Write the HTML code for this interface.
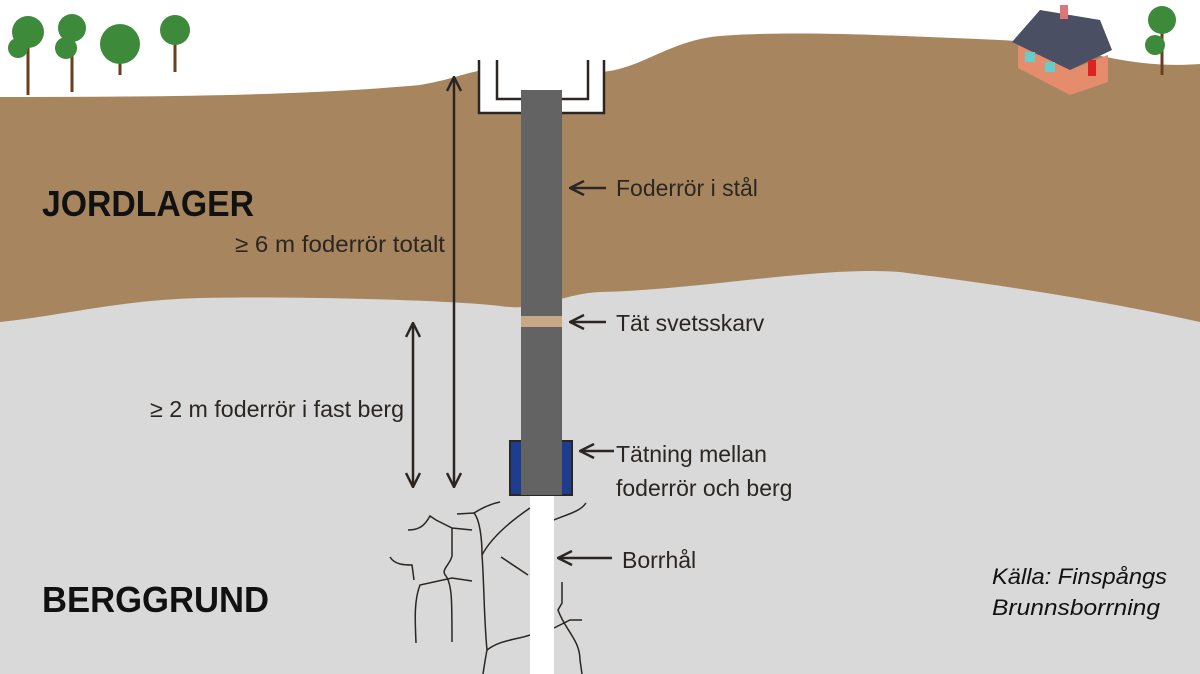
<!DOCTYPE html>
<html><head><meta charset="utf-8"><style>
html,body{margin:0;padding:0;background:#fff}
svg{display:block}
text{font-family:"Liberation Sans",sans-serif}
</style></head><body>
<svg width="1200" height="674" viewBox="0 0 1200 674" xmlns="http://www.w3.org/2000/svg">
<defs>
<marker id="ah" viewBox="0 0 16 16" refX="15" refY="8" markerWidth="16" markerHeight="16" markerUnits="userSpaceOnUse" orient="auto-start-reverse">
<path d="M1,1 L15,8 L1,15" fill="none" stroke="#2b2622" stroke-width="2.5"/>
</marker>
</defs>
<rect width="1200" height="674" fill="#fff"/>
<rect x="0" y="250" width="1200" height="424" fill="#d9d9d9"/>
<path d="M0,97 C150,97 300,96 420,85 C460,78 470,70 490,70 L600,72 C640,70 670,40 720,36 C800,30 900,36 1000,40 C1080,44 1120,70 1200,64 L1200,322 C1100,300 1000,285 900,272 C820,266 700,290 600,292 C560,294 540,312 500,306 C450,300 300,296 200,298 C120,300 60,316 0,322 Z" fill="#a7865f"/>
<g fill="#3d8a3a" stroke="#6b3e1e" stroke-width="3">
<line x1="28" y1="95" x2="28" y2="40"/><circle cx="28" cy="32" r="16" stroke="none"/><circle cx="18" cy="48" r="10" stroke="none"/>
<line x1="72" y1="92" x2="72" y2="30"/><circle cx="72" cy="28" r="14" stroke="none"/><circle cx="66" cy="48" r="11" stroke="none"/>
<line x1="120" y1="75" x2="120" y2="45"/><circle cx="120" cy="44" r="20" stroke="none"/>
<line x1="175" y1="72" x2="175" y2="30"/><circle cx="175" cy="30" r="15" stroke="none"/>
<line x1="1162" y1="75" x2="1162" y2="20"/><circle cx="1162" cy="20" r="14" stroke="none"/><circle cx="1155" cy="45" r="10" stroke="none"/>
</g>
<polygon points="1018,45 1070,70 1108,55 1108,82 1070,95 1018,68" fill="#e58c6c"/>
<polygon points="1012,42 1040,10 1100,20 1112,50 1070,70" fill="#4a4f63"/>
<rect x="1060" y="5" width="8" height="14" fill="#d77"/>
<rect x="1088" y="60" width="8" height="16" fill="#d22"/>
<rect x="1025" y="52" width="10" height="10" fill="#6cc"/><rect x="1045" y="62" width="10" height="10" fill="#6cc"/>
<g fill="none" stroke="#2b2622" stroke-width="1.5">
<path d="M408,530 C420,530 425,525 430,516 L436,520 L452,528 L472,530"/>
<path d="M452,528 L452,556 C450,565 440,570 446,576 C452,585 452,600 452,642"/>
<path d="M390,557 C395,565 405,565 412,565 L414,580"/>
<path d="M416,643 C415,620 414,600 420,585 L452,578 L472,581"/>
<path d="M457,514 L474,513 C480,520 482,540 482,555 C484,580 484,620 487,650 C485,660 484,668 483,674"/>
<path d="M474,513 C482,508 490,504 500,502"/>
<path d="M482,555 C490,540 505,525 530,508"/>
<path d="M501,557 L528,575"/>
<path d="M487,650 C500,640 515,640 530,635"/>
<path d="M554,520 C565,515 580,512 586,503"/>
<path d="M562,582 L562,603 L558,610 C565,630 580,640 580,660 L582,674"/>
<path d="M554,628 L570,620 L582,620"/>
</g>
<rect x="530" y="495" width="24" height="179" fill="#fff"/>
<path d="M479,60 L479,113 L604,113 L604,60" fill="#fff" stroke="#2b2622" stroke-width="2.5"/>
<path d="M497,60 L497,99 L588,99 L588,60" fill="none" stroke="#2b2622" stroke-width="2.5"/>
<rect x="510" y="441" width="62" height="54" fill="#1f3d8f" stroke="#2b2622" stroke-width="2"/>
<rect x="521" y="90" width="41" height="405" fill="#636363"/>
<rect x="521" y="316" width="41" height="11" fill="#c8a987"/>
<line x1="454" y1="77" x2="454" y2="487" stroke="#2b2622" stroke-width="2.5" marker-start="url(#ah)" marker-end="url(#ah)"/>
<line x1="413" y1="323" x2="413" y2="487" stroke="#2b2622" stroke-width="2.5" marker-start="url(#ah)" marker-end="url(#ah)"/>
<g stroke="#2b2622" stroke-width="2.5">
<line x1="606" y1="188" x2="570" y2="188" marker-end="url(#ah)"/>
<line x1="606" y1="322" x2="570" y2="322" marker-end="url(#ah)"/>
<line x1="614" y1="451" x2="580" y2="451" marker-end="url(#ah)"/>
<line x1="612" y1="558" x2="558" y2="558" marker-end="url(#ah)"/>
</g>
<g fill="#2b2622" font-size="23">
<text x="616" y="196">Foderrör i stål</text>
<text x="616" y="331">Tät svetsskarv</text>
<text x="616" y="462">Tätning mellan</text>
<text x="616" y="496">foderrör och berg</text>
<text x="622" y="568">Borrhål</text>
<text x="445" y="252" text-anchor="end" textLength="210" lengthAdjust="spacingAndGlyphs">≥ 6 m foderrör totalt</text>
<text x="404" y="417" text-anchor="end" textLength="254" lengthAdjust="spacingAndGlyphs">≥ 2 m foderrör i fast berg</text>
</g>
<g fill="#111" font-size="36" font-weight="bold">
<text x="42" y="216" textLength="212" lengthAdjust="spacingAndGlyphs">JORDLAGER</text>
<text x="42" y="612" textLength="227" lengthAdjust="spacingAndGlyphs">BERGGRUND</text>
</g>
<g fill="#111" font-size="22" font-style="italic">
<text x="992" y="584" textLength="175" lengthAdjust="spacingAndGlyphs">Källa: Finspångs</text>
<text x="992" y="615" textLength="168" lengthAdjust="spacingAndGlyphs">Brunnsborrning</text>
</g>
</svg>
</body></html>
